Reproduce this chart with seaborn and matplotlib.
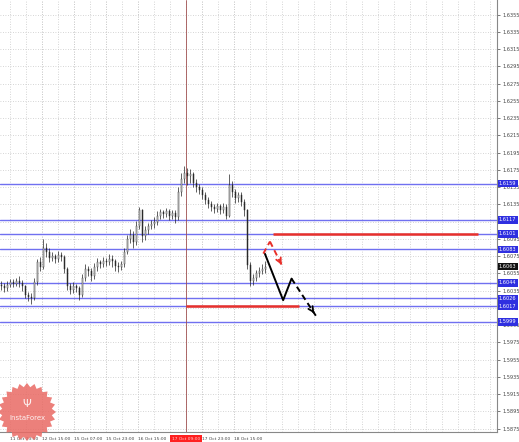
import numpy as np
import matplotlib
matplotlib.use("Agg")
import matplotlib.pyplot as plt
import matplotlib.transforms as mtransforms
from matplotlib.patches import Polygon
import seaborn as sns

# hourly closes, highs, lows (GBP/USD style chart)
closes = [1.6040, 1.6038, 1.6042, 1.6045, 1.6043, 1.6046, 1.6044, 1.6040, 1.6030, 1.6028,
          1.6026, 1.6045, 1.6068, 1.6062, 1.6085, 1.6080, 1.6073, 1.6075, 1.6072, 1.6076,
          1.6074, 1.6060, 1.6040, 1.6036, 1.6040, 1.6038, 1.6030, 1.6050, 1.6060, 1.6058,
          1.6052, 1.6062, 1.6068, 1.6066, 1.6070, 1.6068, 1.6072, 1.6070, 1.6064, 1.6062,
          1.6066, 1.6080, 1.6095, 1.6100, 1.6092, 1.6110, 1.6128, 1.6098, 1.6105, 1.6110,
          1.6112, 1.6115, 1.6122, 1.6126, 1.6124, 1.6127, 1.6122, 1.6125, 1.6120, 1.6150,
          1.6165, 1.6172, 1.6168, 1.6170, 1.6160, 1.6155, 1.6152, 1.6146, 1.6140, 1.6136,
          1.6132, 1.6130, 1.6133, 1.6128, 1.6132, 1.6122, 1.6158, 1.6150, 1.6142, 1.6146,
          1.6138, 1.6128, 1.6065, 1.6046, 1.6050, 1.6055, 1.6058, 1.6060, 1.6063]
highs = [1.6046, 1.6044, 1.6046, 1.6049, 1.6048, 1.6050, 1.6052, 1.6047, 1.6042, 1.6034,
         1.6032, 1.6050, 1.6072, 1.6074, 1.6095, 1.6090, 1.6084, 1.6080, 1.6078, 1.6081,
         1.6080, 1.6076, 1.6062, 1.6044, 1.6045, 1.6043, 1.6040, 1.6054, 1.6066, 1.6064,
         1.6061, 1.6067, 1.6073, 1.6071, 1.6074, 1.6073, 1.6078, 1.6076, 1.6072, 1.6068,
         1.6070, 1.6084, 1.6100, 1.6106, 1.6104, 1.6116, 1.6132, 1.6130, 1.6110, 1.6114,
         1.6117, 1.6120, 1.6127, 1.6130, 1.6129, 1.6131, 1.6130, 1.6129, 1.6128, 1.6155,
         1.6172, 1.6179, 1.6177, 1.6176, 1.6173, 1.6164, 1.6159, 1.6155, 1.6149, 1.6144,
         1.6139, 1.6136, 1.6137, 1.6136, 1.6137, 1.6135, 1.6170, 1.6162, 1.6153, 1.6150,
         1.6149, 1.6141, 1.6130, 1.6068, 1.6054, 1.6059, 1.6062, 1.6066, 1.6069]
lows = [1.6036, 1.6033, 1.6035, 1.6039, 1.6039, 1.6040, 1.6039, 1.6035, 1.6026, 1.6023,
        1.6020, 1.6024, 1.6042, 1.6058, 1.6060, 1.6074, 1.6068, 1.6069, 1.6067, 1.6068,
        1.6070, 1.6056, 1.6036, 1.6031, 1.6032, 1.6033, 1.6024, 1.6028, 1.6046, 1.6052,
        1.6046, 1.6049, 1.6058, 1.6061, 1.6062, 1.6064, 1.6065, 1.6063, 1.6058, 1.6057,
        1.6059, 1.6063, 1.6077, 1.6090, 1.6085, 1.6088, 1.6106, 1.6092, 1.6094, 1.6101,
        1.6106, 1.6108, 1.6111, 1.6118, 1.6119, 1.6120, 1.6117, 1.6118, 1.6114, 1.6117,
        1.6145, 1.6160, 1.6158, 1.6160, 1.6155, 1.6150, 1.6147, 1.6141, 1.6136, 1.6131,
        1.6127, 1.6125, 1.6126, 1.6124, 1.6125, 1.6118, 1.6120, 1.6144, 1.6137, 1.6138,
        1.6133, 1.6122, 1.6060, 1.6041, 1.6042, 1.6046, 1.6051, 1.6054, 1.6056]
first_open = 1.6042

# support / resistance levels
levels = [1.6159, 1.6117, 1.6101, 1.6083, 1.6044, 1.6026, 1.6017, 1.5999]
last_price = 1.6063

# red target lines: (start bar, end bar, price)
red_lines = [(90.5, 158.8, 1.6101), (61.5, 99.2, 1.6017)]
cursor_bar = 61.5
cursor_label = "17 Oct 09:00"

# forecast paths (bar, price)
black_solid_x = [87.8, 93.9, 96.7]
black_solid_y = [1.6078, 1.6024, 1.6049]
black_dash_x = [96.7, 104.8]
black_dash_y = [1.6049, 1.6006]
red_up_x = [87.3, 89.5]
red_up_y = [1.6078, 1.6092]
red_dash_x = [89.5, 93.4]
red_dash_y = [1.6092, 1.6065]

# "17 Oct 07:00" sits under the cursor box, so it is not listed
time_ticks = [2.8, 13.5, 24.2, 34.8, 45.5, 66.8, 77.5]
time_labels = ["11 Oct 23:00", "12 Oct 15:00", "15 Oct 07:00", "15 Oct 23:00",
               "16 Oct 15:00", "17 Oct 23:00", "18 Oct 15:00"]
price_ticks = np.round(np.arange(1.5875, 1.63551, 0.002), 4)

sns.set_style("white")
plt.rcParams["font.family"] = ["DejaVu Sans"]

fig = plt.figure(figsize=(5.19, 4.42), dpi=100)
ax = fig.add_axes([0, 10 / 442, 497 / 519, 432 / 442])
ax.set_xlim(-0.5, 165.2)
ax.set_ylim(1.58712, 1.63720)

# grid
ax.set_yticks(price_ticks)
# labels hidden under a level box are left blank
ax.set_yticklabels(["" if min(abs(p - lv) for lv in levels) < 0.00035 else f"{p:.4f}"
                    for p in price_ticks])
ax.set_xticks(np.arange(2.8, 165, 5.33), minor=True)
ax.set_xticks(time_ticks)
ax.set_xticklabels(time_labels, ha="left")
ax.grid(True, which="both", axis="x", color="#c8c8c8", ls=(0, (1, 2)), lw=0.6)
ax.grid(True, which="major", axis="y", color="#c8c8c8", ls=(0, (1, 2)), lw=0.6)
ax.yaxis.tick_right()
ax.tick_params(axis="y", labelsize=3.6, colors="#444444", length=2, width=0.5, pad=2)
ax.tick_params(axis="x", which="major", labelsize=3.2, colors="#444444", length=2, width=0.5, pad=1.5)
ax.tick_params(axis="x", which="minor", length=0)
for lab in ax.get_xticklabels():
    lab.set_horizontalalignment("left")
for s in ["top", "left"]:
    ax.spines[s].set_visible(False)
for s in ["right", "bottom"]:
    ax.spines[s].set_color("#888888")
    ax.spines[s].set_linewidth(0.8)

# levels
for lv in levels:
    ax.axhline(lv, color="#7070f0", lw=1.0, zorder=2)
for x0, x1, p in red_lines:
    ax.hlines(p, x0, x1, color="#e8302a", lw=1.8, zorder=3)
ax.axvline(cursor_bar, color="#a05050", lw=0.6, zorder=2)

# candles
opens = [first_open] + closes[:-1]
idx = np.arange(len(closes))
ax.vlines(idx, lows, highs, color="#222222", lw=0.5, zorder=4)
for i, (o, c) in enumerate(zip(opens, closes)):
    up = c >= o
    ax.bar(i, max(abs(c - o), 0.00005), bottom=min(o, c), width=0.55,
           color="white" if up else "#222222", edgecolor="#333333", lw=0.35, zorder=5)

# forecast arrows
sns.lineplot(x=black_solid_x, y=black_solid_y, ax=ax, color="black", lw=1.4, sort=False, zorder=6)
sns.lineplot(x=black_dash_x, y=black_dash_y, ax=ax, color="black", lw=1.4, sort=False, zorder=6)
ax.lines[-1].set_linestyle((0, (3, 2)))
sns.lineplot(x=red_up_x, y=red_up_y, ax=ax, color="#e8302a", lw=1.4, sort=False, zorder=6)
ax.lines[-1].set_linestyle((0, (3, 2)))
sns.lineplot(x=red_dash_x, y=red_dash_y, ax=ax, color="#e8302a", lw=1.4, sort=False, zorder=6)
ax.lines[-1].set_linestyle((0, (3, 2)))
for xs, ys, col in [(black_dash_x, black_dash_y, "black"), (red_dash_x, red_dash_y, "#e8302a")]:
    ax.annotate("", xy=(xs[1], ys[1]),
                xytext=(xs[1] - 0.15 * (xs[1] - xs[0]), ys[1] - 0.15 * (ys[1] - ys[0])),
                arrowprops=dict(arrowstyle="->", color=col, lw=1.3, mutation_scale=9), zorder=7)

# boxed price labels on the right axis
trans = mtransforms.blended_transform_factory(ax.transAxes, ax.transData)
for lv in levels:
    ax.text(1.004, lv, f"{lv:.4f}", transform=trans, fontsize=3.6, color="white",
            va="center", ha="left", clip_on=False, zorder=10,
            bbox=dict(facecolor="#2f2fe0", edgecolor="none", pad=0.9))
ax.text(1.004, last_price, f"{last_price:.4f}", transform=trans, fontsize=3.6, color="white",
        va="center", ha="left", clip_on=False, zorder=10,
        bbox=dict(facecolor="#111111", edgecolor="none", pad=0.9))

# cursor time label
ax.text(cursor_bar, -0.011, cursor_label, transform=mtransforms.blended_transform_factory(ax.transData, ax.transAxes),
        fontsize=3.2, color="#ffd0d0", ha="center", va="top", clip_on=False, zorder=10,
        bbox=dict(facecolor="#ff2020", edgecolor="none", pad=1.2))

# InstaForex watermark
n = 24
ang = np.linspace(0, 2 * np.pi, 2 * n, endpoint=False)
rad = np.where(np.arange(2 * n) % 2 == 0, 29, 25)
cx, cy = 27, 442 - 412
star = Polygon(np.column_stack([(cx + rad * np.cos(ang)) / 519, (cy + rad * np.sin(ang)) / 442]),
               closed=True, transform=fig.transFigure, facecolor="#e96a64", edgecolor="none",
               alpha=0.85, zorder=0)
fig.patches.append(star)
fig.text(cx / 519, (cy - 6) / 442, "InstaForex", color="white", fontsize=5, ha="center", va="center", alpha=0.9)
fig.text(cx / 519, (cy + 8) / 442, "Ψ", color="white", fontsize=8, ha="center", va="center", alpha=0.9)

fig.savefig("out.png", dpi=100)
